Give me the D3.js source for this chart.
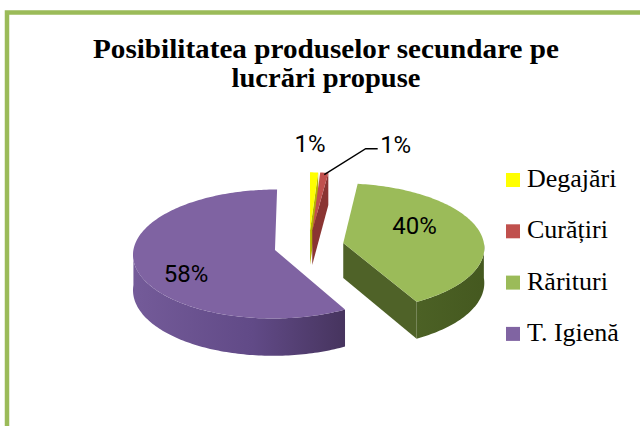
<!DOCTYPE html>
<html><head><meta charset="utf-8">
<script src="https://cdnjs.cloudflare.com/ajax/libs/d3/7.8.5/d3.min.js"></script>
</head><body style="margin:0">
<script>
// ---- data ----
const categories = ["Degajări", "Curățiri", "Rărituri", "T. Igienă"];
const values = [1, 1, 40, 58];
const labelTexts = ["1%", "1%", "40%", "58%"];
const titleLines = ["Posibilitatea produselor secundare pe", "lucrări propuse"];

// ---- style ----
const SERIF = '"Tinos", "Liberation Serif", "Times New Roman"';
const SANS = '"Roboto"';
const topColors = ["#FFFF00", "#C0504D", "#9BBB59", "#7F63A2"];
const legendColors = ["#FFFF00", "#C0504D", "#9BBB59", "#8064A2"];
const sideColors = ["#B5B500", "#8A3432", "#4F6228", "#5A4580"];

const W = 640, H = 426;
const svg = d3.select("body").append("svg").attr("width", W).attr("height", H);

// border
svg.append("rect").attr("x", 7).attr("y", 12.5).attr("width", 800).attr("height", 600)
  .attr("fill", "none").attr("stroke", "#9BBB59").attr("stroke-width", 4.5);

// title
const titleW = [466, 189];
titleLines.forEach((t, i) => {
  svg.append("text").attr("x", 326).attr("y", 58 + i * 29).attr("text-anchor", "middle")
    .style("font-family", SERIF).style("font-weight", "bold").style("font-size", "27px")
    .attr("textLength", titleW[i]).attr("lengthAdjust", "spacingAndGlyphs").text(t);
});

// ---- 3D pie geometry ----
const cx = 309, cy = 246, rx = 141, ry = 64, depth = 35, explode = 35, persp = 0.0625;
const ratio = ry / rx;
function proj(X, Y, h) {
  const s = 1 + persp * Y / rx;
  return [cx + X * s, cy + (Y * ratio + h) * s];
}
const arcs = d3.pie().sort(null).value(d => d)(values);
const defs = svg.append("defs");
const gP = defs.append("linearGradient").attr("id", "gPurple").attr("gradientUnits", "userSpaceOnUse")
  .attr("x1", 133).attr("x2", 350).attr("y1", 0).attr("y2", 0);
gP.append("stop").attr("offset", 0).attr("stop-color", "#745B99");
gP.append("stop").attr("offset", 0.55).attr("stop-color", "#614A87");
gP.append("stop").attr("offset", 1).attr("stop-color", "#45335C");
const gG = defs.append("linearGradient").attr("id", "gGreen").attr("gradientUnits", "userSpaceOnUse")
  .attr("x1", 340).attr("x2", 490).attr("y1", 0).attr("y2", 0);
gG.append("stop").attr("offset", 0).attr("stop-color", "#546a2b");
gG.append("stop").attr("offset", 1).attr("stop-color", "#44581f");
const sideFill = [sideColors[0], sideColors[1], "url(#gGreen)", "url(#gPurple)"];

const line = d3.line();
const pieG = svg.append("g");
const slices = arcs.map((a, i) => {
  const m = (a.startAngle + a.endAngle) / 2;
  const ox = explode * Math.sin(m), oy = -explode * Math.cos(m);
  const wp = (ang, r, h) => proj(ox + r * rx * Math.sin(ang), oy - r * rx * Math.cos(ang), h);
  return { a, i, m, ox, oy, wp };
});

function arcPts(wp, a0, a1, h) {
  const n = Math.max(2, Math.ceil(Math.abs(a1 - a0) / 0.02));
  return d3.range(n + 1).map(k => wp(a0 + (a1 - a0) * k / n, 1, h));
}

// sides
slices.forEach(sl => {
  const { a, i, wp } = sl;
  const g = pieG.append("g");
  const b0 = Math.max(a.startAngle, Math.PI / 2), b1 = Math.min(a.endAngle, 3 * Math.PI / 2);
  if (b1 > b0) {
    const pts = arcPts(wp, b0, b1, 0).concat(arcPts(wp, b1, b0, depth));
    g.append("path").attr("d", line(pts) + "Z").attr("fill", sideFill[i]);
  }
  [[a.startAngle, -Math.sin(a.startAngle)], [a.endAngle, Math.sin(a.endAngle)]].forEach(([ang, vis]) => {
    if (vis > 0.001) {
      const pts = [wp(0, 0, 0), wp(ang, 1, 0), wp(ang, 1, depth), wp(0, 0, depth)];
      g.append("path").attr("d", line(pts) + "Z").attr("fill", sideColors[i]);
    }
  });
});
// tops
slices.forEach(sl => {
  const { a, i, wp } = sl;
  const pts = [wp(0, 0, 0)].concat(arcPts(wp, a.startAngle, a.endAngle, 0));
  pieG.append("path").attr("d", line(pts) + "Z").attr("fill", topColors[i]);
});

// labels
const labelLayout = [[1.55, 0, -6, 0], [1.5, 0, 66, -2], [0.52, 0, 0, -11], [0.64, 0, 0, 13]];
slices.forEach(sl => {
  const [r, h, dx, dy] = labelLayout[sl.i];
  const p = sl.wp(sl.m, r, h);
  svg.append("text").attr("x", p[0] + dx).attr("y", p[1] + dy + 8.5)
    .attr("text-anchor", "middle").style("font-family", SANS)
    .style("font-size", "24px").text(labelTexts[sl.i]);
});
// leader line for second small slice
{
  const sl = slices[1];
  const p0 = sl.wp(sl.m, 1.0, 0);
  const lp = sl.wp(sl.m, 1.5, 0);
  const ex = lp[0] + 66 - 18, ey = lp[1] - 2 + 4;
  svg.append("path").attr("d", line([[p0[0], p0[1] + 2], [ex - 12, ey], [ex, ey]]))
    .attr("fill", "none").attr("stroke", "#000").attr("stroke-width", 1.4);
}

// legend
categories.forEach((c, i) => {
  const y = 173 + i * 51.3;
  svg.append("rect").attr("x", 506).attr("y", y).attr("width", 14).attr("height", 14)
    .attr("fill", legendColors[i]);
  svg.append("text").attr("x", 527).attr("y", y + 14)
    .style("font-family", SERIF).style("font-size", "26px").text(c);
});
</script>
</body></html>
